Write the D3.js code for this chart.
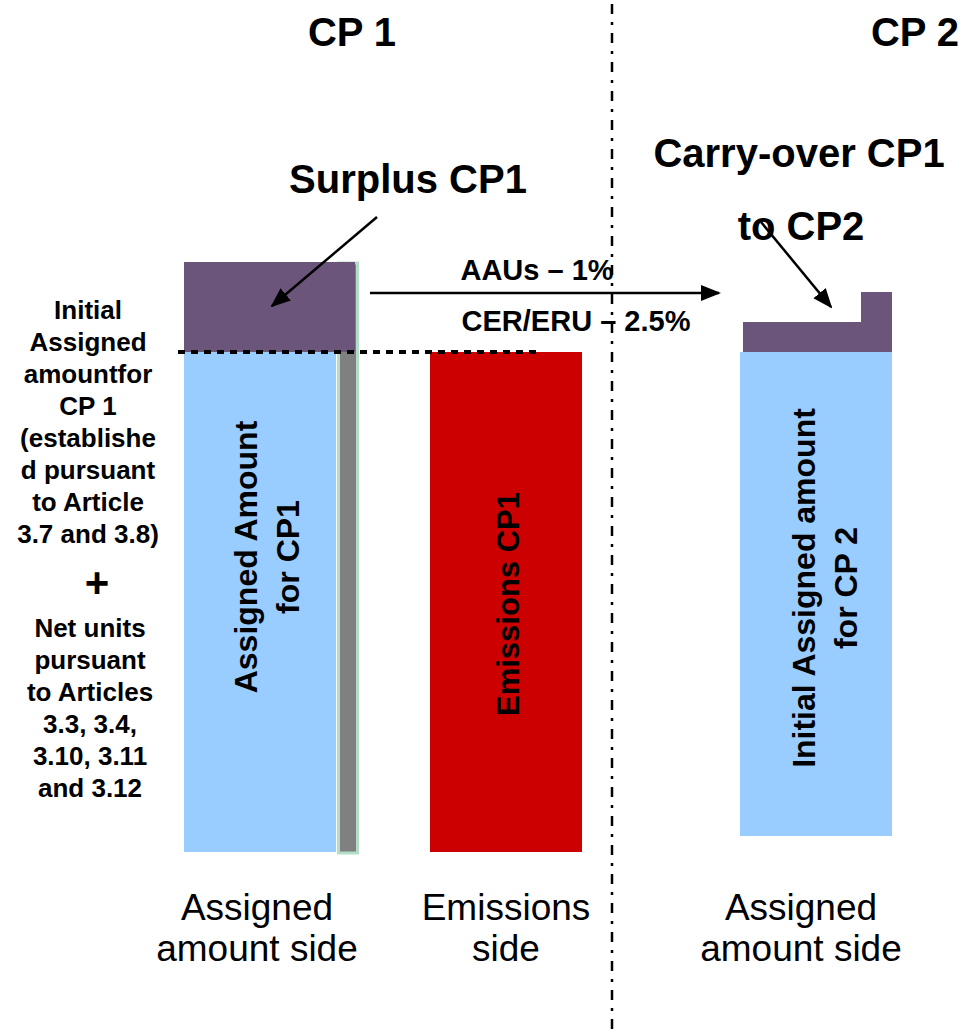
<!DOCTYPE html>
<html>
<head>
<meta charset="utf-8">
<script src="https://cdn.jsdelivr.net/npm/d3@7"></script>
<style>
  body { margin: 0; background: #fff; }
  svg text { font-family: "Liberation Sans", Arial, sans-serif; }
</style>
</head>
<body>
<div id="chart"></div>
<script>
// columns of the diagram
const columns = ["cp1Assigned", "cp1Emissions", "cp2Assigned"];
const columnLabels = [["Assigned", "amount side"], ["Emissions", "side"], ["Assigned", "amount side"]];

// stacked segments: [column, from, to, kind]
const segments = [
  ["cp1Assigned", 0, 100, "assigned"],
  ["cp1Assigned", 100, 118, "surplus"],
  ["cp1Emissions", 0, 100, "emissions"],
  ["cp2Assigned", 3.2, 100, "assigned"],
  ["cp2Assigned", 100, 106, "carry"]
];
// CER/ERU carry-over step (narrow part on the right of CP2)
const carryStep = [106, 112];
// net units strip next to CP1 assigned amount
const netUnits = [0, 118];
const initialLevel = 100;

const barTexts = {
  cp1Assigned: ["Assigned Amount", "for CP1"],
  cp1Emissions: ["Emissions CP1"],
  cp2Assigned: ["Initial Assigned amount", "for CP 2"]
};

const leftNote = ["Initial", "Assigned", "amountfor", "CP 1", "(establishe", "d pursuant",
  "to Article", "3.7 and 3.8)"];
const leftNote2 = ["Net units", "pursuant", "to Articles", "3.3, 3.4,", "3.10, 3.11", "and 3.12"];

const colors = {
  assigned: "#99CCFF",
  surplus: "#6C557A",
  carry: "#6C557A",
  emissions: "#CC0000",
  net: "#808080",
  netBorder: "#B2DDC6"
};

const W = 962, H = 1032;
const svg = d3.select("#chart").append("svg")
  .attr("width", W).attr("height", H);

const defs = svg.append("defs");
defs.append("marker")
  .attr("id", "head")
  .attr("viewBox", "0 0 10 10")
  .attr("refX", 9).attr("refY", 5)
  .attr("markerWidth", 8).attr("markerHeight", 8)
  .attr("markerUnits", "strokeWidth")
  .attr("orient", "auto")
  .append("path").attr("d", "M0,1 L10,5 L0,9 Z").attr("fill", "#000");

// scales
const y = d3.scaleLinear().domain([0, 120]).range([852, 252]);
const x = d3.scaleOrdinal().domain(columns).range([184, 430, 740]);
const barW = 152;

// net units strip (behind)
svg.append("rect")
  .attr("x", x("cp1Assigned") + barW + 2.5)
  .attr("y", y(netUnits[1]) + 1)
  .attr("width", 19)
  .attr("height", y(netUnits[0]) - y(netUnits[1]))
  .attr("fill", colors.net)
  .attr("stroke", colors.netBorder)
  .attr("stroke-width", 3);

// bars
svg.selectAll(".seg")
  .data(segments)
  .join("rect")
  .attr("class", "seg")
  .attr("x", d => x(d[0]) + (d[0] === "cp2Assigned" && d[3] === "carry" ? 3 : 0))
  .attr("y", d => y(d[2]))
  .attr("width", d => d[3] === "surplus" ? barW + 19 : (d[3] === "carry" ? barW - 3 : barW))
  .attr("height", d => y(d[1]) - y(d[2]))
  .attr("fill", d => colors[d[3]]);

svg.append("rect")
  .attr("x", x("cp2Assigned") + 121)
  .attr("y", y(carryStep[1]))
  .attr("width", 31)
  .attr("height", y(carryStep[0]) - y(carryStep[1]) + 1)
  .attr("fill", colors.carry);

// dotted initial level line
svg.append("line")
  .attr("x1", 178).attr("x2", 541)
  .attr("y1", y(initialLevel)).attr("y2", y(initialLevel))
  .attr("stroke", "#000").attr("stroke-width", 4)
  .attr("stroke-dasharray", "7,6");

// CP divider
svg.append("line")
  .attr("x1", 612).attr("x2", 612)
  .attr("y1", 4).attr("y2", H)
  .attr("stroke", "#000").attr("stroke-width", 2.5)
  .attr("stroke-dasharray", "10,8,3,8");

// arrows
const arrows = [
  [377, 217, 272, 306],
  [370, 293, 719, 293],
  [761, 222, 831, 307]
];
svg.selectAll(".arrow")
  .data(arrows)
  .join("line")
  .attr("class", "arrow")
  .attr("x1", d => d[0]).attr("y1", d => d[1])
  .attr("x2", d => d[2]).attr("y2", d => d[3])
  .attr("stroke", "#000").attr("stroke-width", 2.5)
  .attr("marker-end", "url(#head)");

// rotated labels inside bars
const rot = [
  {col: "cp1Assigned", size: 32, cx: [245, 287], cy: 557},
  {col: "cp1Emissions", size: 31, cx: [508], cy: 604},
  {col: "cp2Assigned", size: 32, cx: [803, 845], cy: 588}
];
rot.forEach(r => {
  barTexts[r.col].forEach((t, i) => {
    svg.append("text")
      .attr("transform", `translate(${r.cx[i] + r.size * 0.36},${r.cy}) rotate(-90)`)
      .attr("text-anchor", "middle")
      .attr("font-weight", "bold")
      .attr("font-size", r.size)
      .attr("fill", "#000")
      .text(t);
  });
});

// headings
const heads = [
  ["CP 1", 352, 46, 40],
  ["CP 2", 915, 46, 40],
  ["Surplus CP1", 408, 193, 40],
  ["Carry-over CP1", 799, 167, 40],
  ["to CP2", 801, 240, 40],
  ["AAUs \u2013 1%", 537, 280, 29],
  ["CER/ERU \u2013 2.5%", 576, 331, 29]
];
svg.selectAll(".head")
  .data(heads)
  .join("text")
  .attr("class", "head")
  .attr("x", d => d[1]).attr("y", d => d[2])
  .attr("text-anchor", "middle")
  .attr("font-weight", "bold")
  .attr("font-size", d => d[3])
  .text(d => d[0]);

// left note
const note = svg.append("g").attr("font-weight", "bold").attr("font-size", 26)
  .attr("text-anchor", "middle");
leftNote.forEach((t, i) => {
  note.append("text").attr("x", 88).attr("y", 319 + i * 32).text(t);
});
note.append("text").attr("x", 97).attr("y", 597).attr("font-size", 42).text("+");
leftNote2.forEach((t, i) => {
  note.append("text").attr("x", 90).attr("y", 637 + i * 32).text(t);
});

// bottom labels (text blocks sit slightly left of the bar centres)
const labelShift = [-3, 0, -15];
columnLabels.forEach((lines, i) => {
  const cx = x(columns[i]) + barW / 2 + labelShift[i];
  lines.forEach((t, j) => {
    svg.append("text")
      .attr("x", cx).attr("y", 920 + j * 41)
      .attr("text-anchor", "middle")
      .attr("font-size", 37)
      .text(t);
  });
});
</script>
</body>
</html>
